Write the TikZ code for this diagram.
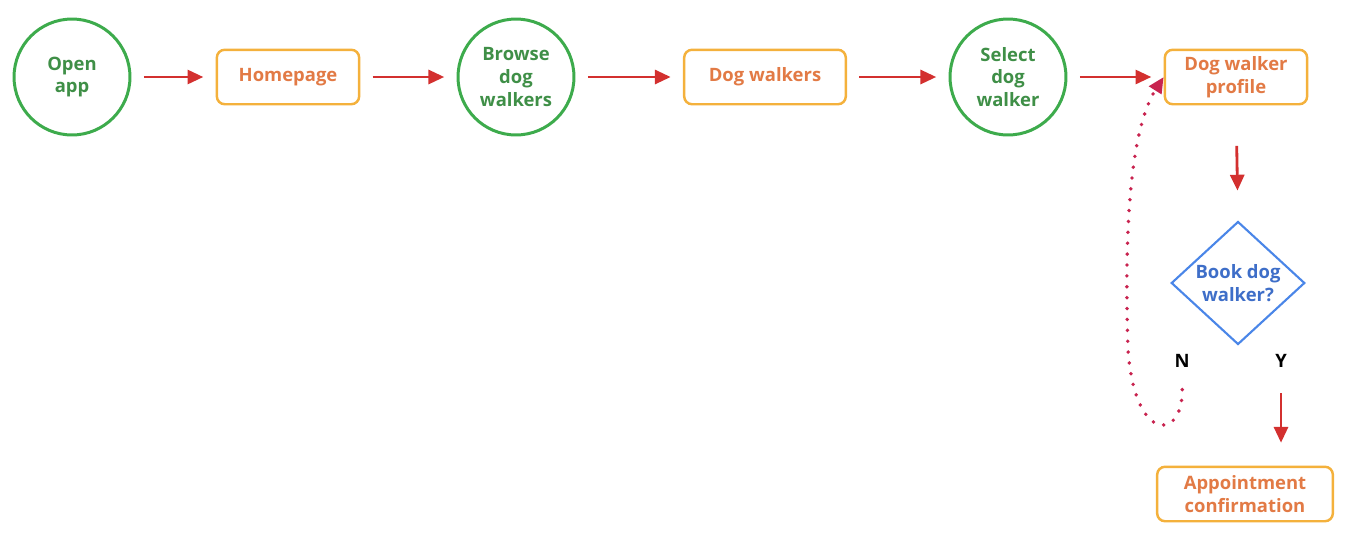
\documentclass[tikz,border=0pt]{standalone}
\usepackage{fontspec}
\setmainfont{Open Sans}
\usetikzlibrary{arrows.meta, shapes.geometric}
\definecolor{stepgreen}{HTML}{3DAB4C}
\definecolor{textgreen}{HTML}{3F8F47}
\definecolor{boxorange}{HTML}{F4B13C}
\definecolor{textorange}{HTML}{E27A45}
\definecolor{choiceblue}{HTML}{4A86E8}
\definecolor{textblue}{HTML}{3E6EC8}
\definecolor{arrowred}{HTML}{D3302F}
\definecolor{backpink}{HTML}{C8234F}

\begin{document}
\begin{tikzpicture}
        [
          x=0.02cm, y=-0.02cm,
          every node/.style={font=\bfseries\fontsize{10.5}{13}\selectfont, align=center},
          stepcircle/.style={circle, draw=stepgreen, line width=1.7pt, text=textgreen, minimum size=66pt, inner sep=0pt},
          screen/.style={rectangle, rounded corners=4.5pt, draw=boxorange, line width=1.4pt, text=textorange, minimum height=31pt, inner sep=2pt},
          choice/.style={diamond, draw=choiceblue, line width=1.2pt, text=textblue, minimum width=76pt, minimum height=70pt, inner sep=0pt},
          answer/.style={text=black},
          link/.style={-{Triangle[length=9pt,width=8pt]}, draw=arrowred, line width=1.6pt},
          backlink/.style={-{Triangle[length=9pt,width=8pt]}, draw=backpink, line width=2.2pt, line cap=round, dash pattern=on 0pt off 6.2pt}
        ]
        \useasboundingbox (0,0) rectangle (1352,555);
        % top row
        \node [stepcircle] (open) at (72,77) {Open\\app};
        \node [screen, minimum width=81pt] (home) at (288,77) {Homepage};
        \node [stepcircle] (browse) at (516,77) {Browse\\dog\\walkers};
        \node [screen, minimum width=92pt] (walkers) at (765,77) {Dog walkers};
        \node [stepcircle] (select) at (1008,77) {Select\\dog\\walker};
        \node [screen, minimum width=81pt] (prof) at (1236,77) {Dog walker\\profile};
        % decision
        \node [choice] (book) at (1238,283) {Book dog\\walker?};
        \node [answer] (no) at (1182,361) {N};
        \node [answer] (yes) at (1281,361) {Y};
        \node [screen, minimum width=100pt] (appt) at (1245,494) {Appointment\\confirmation};
        % arrows
        \foreach \a/\b in {open/home,home/browse,browse/walkers,walkers/select,select/prof} {
            \draw [link, shorten <=7pt, shorten >=7pt] (\a.east) -- (\b.west);
        }
        \draw [link, shorten <=23pt, shorten >=17pt] (prof.south) -- (book.north);
        \draw [link, shorten <=11pt, shorten >=13pt] (yes.south) -- (yes.south |- appt.north);
        % back to profile
        \draw [backlink, shorten <=9pt]
        (no.south) .. controls (1183,440) and (1135,445) .. (1128,350)
        .. controls (1124,230) and (1130,130) .. (prof.west);
\end{tikzpicture}
\end{document}
